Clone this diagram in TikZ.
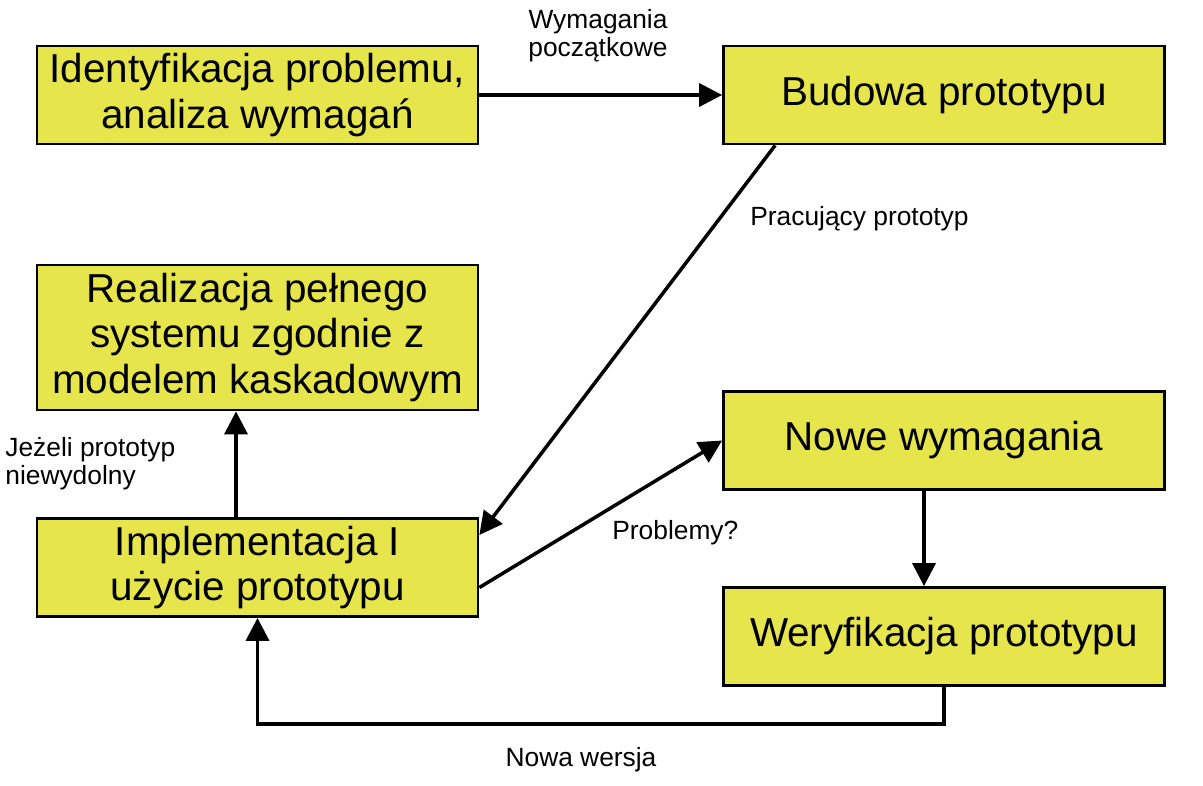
\documentclass[tikz,border=0pt]{standalone}
\usepackage{fontspec}
\setmainfont{Liberation Sans}
\usetikzlibrary{arrows.meta}
\definecolor{boxyellow}{RGB}{230,230,76}

\begin{document}
\begin{tikzpicture}[x=0.02cm,y=-0.02cm,
    box/.style={draw,line width=1.6pt,fill=boxyellow,minimum width=8.82cm,minimum height=1.96cm,align=center,inner sep=0pt,font=\fontsize{23}{26}\selectfont},
    lbl/.style={inner sep=0pt,align=left,font=\fontsize{15}{16}\selectfont},
    arr/.style={draw,line width=2pt,-{Triangle[length=0.46cm,width=0.46cm]}}]
        \useasboundingbox (0,0) rectangle (1203,785);
        % boxes
        \node[box](ident)at(257.5,95){Identyfikacja problemu,\\analiza wymagań};
        \node[box](budowa)at(944,95){Budowa prototypu};
        \node[box,minimum height=2.9cm](real)at(257.5,337.5){Realizacja pełnego\\systemu zgodnie z\\modelem kaskadowym};
        \node[box](nowe)at(944,440.5){Nowe wymagania};
        \node[box](impl)at(257.5,567.5){Implementacja I\\użycie prototypu};
        \node[box](wer)at(944,636.5){Weryfikacja prototypu};
        % arrows
        \path[arr](ident)to(budowa);
        \path[arr]([xshift=1.06cm]budowa.south west)to([yshift=0.65cm]impl.east);
        \path[arr]([yshift=-0.4cm]impl.east)to(nowe.west);
        \path[arr]([xshift=-0.43cm]impl.north)to([xshift=-0.43cm]real.south);
        \path[arr]([xshift=-0.4cm]nowe.south)to([xshift=-0.4cm]wer.north);
        \path[arr](wer.south)--++(0,37)-|(impl.south);
        % labels
        \node[lbl,align=center](wympocz)at(598,36){Wymagania\\początkowe};
        \node[lbl,anchor=west](pracuj)at(750,219){Pracujący prototyp};
        \node[lbl,anchor=west](problemy)at(612,533){Problemy?};
        \node[lbl,anchor=west](jezeli)at(5,464){Jeżeli prototyp\\niewydolny};
        \node[lbl](nowawer)at(581,760){Nowa wersja};
    \end{tikzpicture}
\end{document}
